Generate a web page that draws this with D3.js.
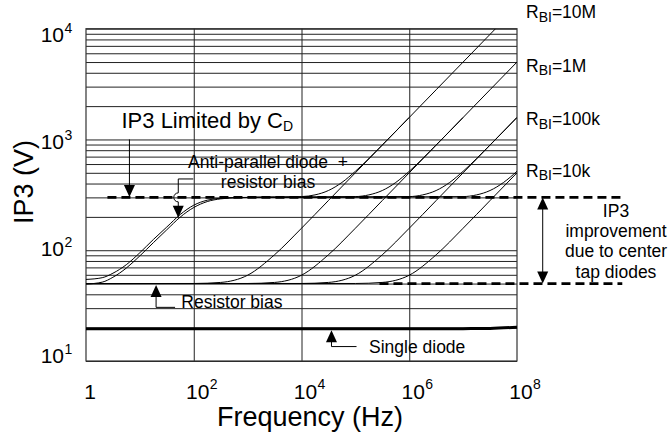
<!DOCTYPE html>
<html>
<head>
<meta charset="utf-8">
<script src="https://cdn.jsdelivr.net/npm/d3@7"></script>
<style>
  body { margin: 0; background: #fff; }
  text { font-family: "Liberation Sans", Arial, sans-serif; fill: #000; white-space: pre; }
</style>
</head>
<body>
<svg id="chart" width="669" height="436"></svg>
<script>
// axis ticks
const xTicks = [1, 1e2, 1e4, 1e6, 1e8];
const yTicks = [1e1, 1e2, 1e3, 1e4];
const xGrid = [1e2, 1e4, 1e6];

// resistor bias curves [frequency Hz, IP3 V]
const resistor10M = [[1, 50], [100, 50.1], [316, 51.2], [1e3, 59.5], [3.16e3, 91], [1e4, 158], [3.16e4, 281], [1e5, 500], [3.16e5, 889], [1e6, 1580], [3.16e6, 2810], [1e7, 5000], [3.16e7, 8890], [4e7, 10000]];
const resistor1M = [[1, 50], [1e3, 50.1], [3.16e3, 51.2], [1e4, 59.5], [3.16e4, 91], [1e5, 158], [3.16e5, 281], [1e6, 500], [3.16e6, 889], [1e7, 1580], [3.16e7, 2810], [1e8, 5000]];
const resistor100k = [[1, 50], [1e4, 50.1], [3.16e4, 51.2], [1e5, 59.5], [3.16e5, 91], [1e6, 158], [3.16e6, 281], [1e7, 500], [3.16e7, 889], [1e8, 1580]];
const resistor10k = [[1, 50], [1e5, 50.1], [3.16e5, 51.2], [1e6, 59.5], [3.16e6, 91], [1e7, 158], [3.16e7, 281], [1e8, 500]];

// anti-parallel diode + resistor bias curves
const diode10M = [[1e3, 300], [1e4, 305], [1.78e4, 316], [3.16e4, 346], [5.62e4, 409], [1e5, 516], [3.16e5, 892], [1e6, 1582]];
const diode1M = [[1e3, 300], [1e5, 305], [1.78e5, 316], [3.16e5, 346], [5.62e5, 409], [1e6, 516], [3.16e6, 892], [1e7, 1582]];
const diode100k = [[1e3, 300], [1e6, 305], [1.78e6, 316], [3.16e6, 346], [5.62e6, 409], [1e7, 516], [3.16e7, 892], [1e8, 1582]];
const diode10k = [[1e3, 300], [1e7, 305], [1.78e7, 316], [3.16e7, 346], [5.62e7, 409], [1e8, 516]];

// low frequency double curve (diode rise to C_D limit)
const diodeLowA = [[1, 49.5], [2, 51.5], [3.16, 57], [5.6, 69], [10, 89], [17.8, 117], [31.6, 153], [56, 199], [100, 243], [178, 275], [316, 291], [562, 297], [1000, 299.5], [3160, 300]];
const diodeLowB = [[1, 54.5], [2, 56.5], [3.16, 62], [5.6, 74], [10, 95], [17.8, 125], [31.6, 162], [56, 210], [100, 255], [178, 283], [316, 295], [562, 299], [1000, 300]];

// single diode
const singleDiode = [[1, 19.6], [1e7, 19.6], [3.16e7, 19.7], [1e8, 20.2]];

// dashed reference levels
const limitLevel = [[2.5, 300], [9e9, 300]];
const centerTapLevel = [[2.8e5, 50], [9e9, 50]];

const rbiLabels = ["10M", "1M", "100k", "10k"];

const svg = d3.select("#chart");
const x = d3.scaleLog().domain([1, 1e8]).range([86, 517]);
const y = d3.scaleLog().domain([10, 1e4]).range([361, 28.7]);
const plotW = 517 - 86;
const plotH = 361 - 28.7;

// horizontal grid
svg.append("g")
  .attr("transform", "translate(86,0)")
  .call(d3.axisLeft(y).tickSize(-plotW).tickFormat(""))
  .call(g => g.select(".domain").remove())
  .call(g => g.selectAll("line").attr("stroke", "#222").attr("stroke-width", 1));

// vertical grid
svg.append("g")
  .attr("transform", "translate(0,28.7)")
  .call(d3.axisBottom(x).tickValues(xGrid).tickSize(plotH).tickFormat(""))
  .call(g => g.select(".domain").remove())
  .call(g => g.selectAll("line").attr("stroke", "#222").attr("stroke-width", 1));

svg.append("rect")
  .attr("x", 86).attr("y", 28.7)
  .attr("width", plotW).attr("height", plotH)
  .attr("fill", "none").attr("stroke", "#333").attr("stroke-width", 1.2);

// tick labels with superscripts
xTicks.forEach(v => {
  const e = Math.round(Math.log10(v));
  const px = x(v);
  svg.append("text").attr("x", px + 4).attr("y", 398.5)
    .attr("text-anchor", "middle").attr("font-size", 21)
    .text(e === 0 ? "1" : "10");
  if (e !== 0) {
    svg.append("text").attr("x", px + 16).attr("y", 389)
      .attr("font-size", 14).text(e);
  }
});

yTicks.forEach(v => {
  const e = Math.round(Math.log10(v));
  const py = y(v);
  const by = py + 13 - 0.032 * (py - 28.7);
  svg.append("text").attr("x", 64).attr("y", by)
    .attr("text-anchor", "end").attr("font-size", 21).text("10");
  svg.append("text").attr("x", 64.5).attr("y", by - 9)
    .attr("font-size", 14).text(e);
});

// axis titles
svg.append("text").attr("x", 310).attr("y", 426)
  .attr("text-anchor", "middle").attr("font-size", 27).text("Frequency (Hz)");
svg.append("text")
  .attr("transform", "translate(33,182) rotate(-90)")
  .attr("text-anchor", "middle").attr("font-size", 27).text("IP3 (V)");

// curves
svg.append("clipPath").attr("id", "plotClip")
  .append("rect").attr("x", 86).attr("y", 28.7).attr("width", plotW).attr("height", plotH);

const line = d3.line()
  .x(d => x(d[0]))
  .y(d => y(d[1]))
  .curve(d3.curveMonotoneX);

const curves = svg.append("g").attr("clip-path", "url(#plotClip)");
[resistor10M, resistor1M, resistor100k, resistor10k,
 diode10M, diode1M, diode100k, diode10k, diodeLowA, diodeLowB].forEach(c => {
  curves.append("path").attr("d", line(c))
    .attr("fill", "none").attr("stroke", "#000").attr("stroke-width", 1);
});

svg.append("path").attr("d", line(singleDiode))
  .attr("fill", "none").attr("stroke", "#000").attr("stroke-width", 3);

// dashed levels
[limitLevel, centerTapLevel].forEach(c => {
  svg.append("path").attr("d", line(c))
    .attr("fill", "none").attr("stroke", "#000").attr("stroke-width", 2.6)
    .attr("stroke-dasharray", "9,5");
});

// arrows
const head = (px, py, dir) => {
  const len = 12, hw = 5.5;
  const by = py - dir * len;
  svg.append("path")
    .attr("d", `M${px},${py}L${px - hw},${by}L${px + hw},${by}Z`)
    .attr("fill", "#000");
};
const poly = pts => {
  svg.append("path").attr("d", d3.line()(pts))
    .attr("fill", "none").attr("stroke", "#000").attr("stroke-width", 1);
};

// IP3 limited by C_D
{
  const ax = x(6.4);
  poly([[ax, y(1000)], [ax, y(300) - 10]]);
  head(ax, y(300) - 0.5, 1);
}
// anti-parallel diode + resistor bias
{
  const ax = x(51.6), ty = y(196);
  poly([[x(98), y(440)], [ax, y(440)], [ax, y(300) - 4.5]]);
  svg.append("path")
    .attr("d", `M${ax},${y(300) - 4.5}A4.5,4.5 0 0 0 ${ax},${y(300) + 4.5}`)
    .attr("fill", "none").attr("stroke", "#000").attr("stroke-width", 1);
  poly([[ax, y(300) + 4.5], [ax, ty - 10]]);
  head(ax, ty, 1);
}
// resistor bias
{
  const ax = x(20), ty = y(50) + 1.5;
  head(ax, ty, -1);
  poly([[ax, ty + 10], [ax, y(30.5)], [x(45), y(30.5)]]);
}
// single diode
{
  const ax = x(3.6e4), ty = y(19.6) + 1.5;
  head(ax, ty, -1);
  poly([[ax, ty + 10], [ax, y(13.5)], [x(1.05e5), y(13.5)]]);
}
// IP3 improvement double arrow
{
  const ax = x(3e8);
  head(ax, y(300), -1);
  head(ax, y(50), 1);
  poly([[ax, y(300) + 10], [ax, y(50) - 10]]);
}

// annotation texts
const note = (px, py, str, anchor) => svg.append("text")
  .attr("x", px).attr("y", py).attr("font-size", 17.5)
  .attr("text-anchor", anchor || "start").text(str);

const cd = svg.append("text").attr("x", 121.5).attr("y", 128.3).attr("font-size", 22);
cd.append("tspan").text("IP3 Limited by C");
cd.append("tspan").attr("font-size", 14).attr("dy", 3).text("D");

note(268, 168.3, "Anti-parallel diode  +", "middle");
note(268, 188.3, "resistor bias", "middle");
note(181.3, 308.3, "Resistor bias");
note(369, 353.3, "Single diode");

["IP3", "improvement", "due to center", "tap diodes"].forEach((s, i) => {
  note(616, [216.7, 236.7, 257.3, 278.3][i], s, "middle");
});

const rbiY = [18.3, 71.7, 125, 176.7];
rbiLabels.forEach((s, i) => {
  const t = svg.append("text").attr("x", 526).attr("y", rbiY[i]).attr("font-size", 17.5);
  t.append("tspan").text("R");
  t.append("tspan").attr("font-size", 14).attr("dy", 3.5).text("BI");
  t.append("tspan").attr("dy", -3.5).text("=" + s);
});
</script>
</body>
</html>
